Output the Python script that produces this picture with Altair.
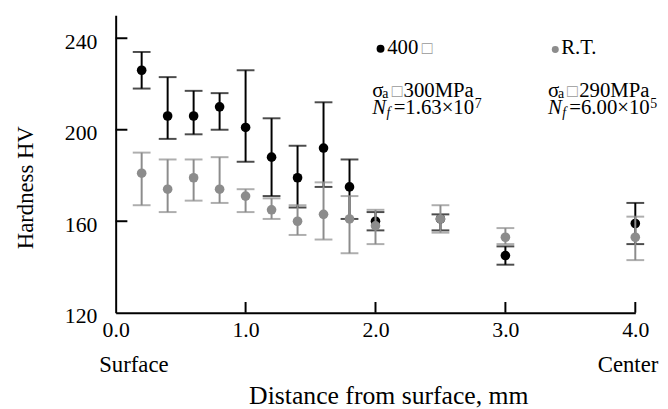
import altair as alt
import pandas as pd

# ---- data ----
x_mm = [0.2, 0.4, 0.6, 0.8, 1.0, 1.2, 1.4, 1.6, 1.8, 2.0, 2.5, 3.0, 4.0]

hv_400_mean = [226, 206, 206, 210, 201, 188, 179, 192, 175, 160, 161, 145, 159]
hv_400_hi   = [234, 223, 217, 216, 226, 205, 193, 212, 187, 164, 163, 149, 168]
hv_400_lo   = [218, 196, 198, 200, 186, 171, 166, 175, 161, 156, 156, 141, 150]

hv_rt_mean = [181, 174, 179, 174, 171, 165, 160, 163, 161, 158, 161, 153, 153]
hv_rt_hi   = [190, 187, 187, 188, 174, 170, 167, 177, 171, 165, 167, 157, 162]
hv_rt_lo   = [167, 164, 169, 168, 164, 161, 154, 152, 146, 150, 155, 150, 143]

x_ticks = [0, 1, 2, 3, 4]
y_ticks = [120, 160, 200, 240]

FONT = "Liberation Serif"
BLACK = "#000000"
GRAY = "#8c8c8c"

df_400 = pd.DataFrame({"x": x_mm, "y": hv_400_mean, "lo": hv_400_lo, "hi": hv_400_hi})
df_rt = pd.DataFrame({"x": x_mm, "y": hv_rt_mean, "lo": hv_rt_lo, "hi": hv_rt_hi})

xscale = alt.Scale(domain=[0, 4], nice=False, zero=False)
yscale = alt.Scale(domain=[120, 250], nice=False, zero=False)

xaxis = alt.Axis(
    values=x_ticks, format=".1f", title="Distance from surface, mm",
    ticks=False, grid=False, domainColor=BLACK, domainWidth=2,
    labelFont=FONT, labelFontSize=22, labelColor=BLACK, labelPadding=7,
    labelFlush=False, labelOverlap=False,
    titleFont=FONT, titleFontSize=26, titleFontWeight="normal", titleColor=BLACK,
    titleX=276, titleY=92, titleBaseline="alphabetic", titleAlign="center",
)
yaxis = alt.Axis(
    values=y_ticks, title="Hardness HV",
    ticks=False, grid=False, domainColor=BLACK, domainWidth=2,
    labelFont=FONT, labelFontSize=22, labelColor=BLACK, labelPadding=19,
    labelOffset=3, labelOverlap=False,
    titleFont=FONT, titleFontSize=23, titleFontWeight="normal", titleColor=BLACK,
    titleX=-84, titleY=174, titleBaseline="alphabetic", titleAlign="center",
    titleAngle=270,
)

X = alt.X("x:Q", scale=xscale, axis=xaxis)
Y = alt.Y("y:Q", scale=yscale, axis=yaxis)


def series(df, color):
    base = alt.Chart(df)
    bar = base.mark_rule(color=color, strokeWidth=2).encode(
        x=X, y=alt.Y("lo:Q", scale=yscale, axis=yaxis), y2="hi:Q")
    cap_lo = base.mark_tick(color=color, orient="horizontal", size=18, thickness=2).encode(
        x=X, y=alt.Y("lo:Q", scale=yscale, axis=yaxis))
    cap_hi = base.mark_tick(color=color, orient="horizontal", size=18, thickness=2).encode(
        x=X, y=alt.Y("hi:Q", scale=yscale, axis=yaxis))
    pts = base.mark_circle(color=color, size=95, opacity=1).encode(x=X, y=Y)
    return [bar, cap_lo, cap_hi, pts]


# inward axis ticks
ytick_df = pd.DataFrame({"y": y_ticks[1:], "x": [0] * 3, "x2": [0.09] * 3})
xtick_df = pd.DataFrame({"x": x_ticks[1:], "y": [120] * 4, "y2": [124.7] * 4})
ytick = alt.Chart(ytick_df).mark_rule(color=BLACK, strokeWidth=2).encode(x=X, x2="x2:Q", y=Y)
xtick = alt.Chart(xtick_df).mark_rule(color=BLACK, strokeWidth=2).encode(x=X, y=Y, y2="y2:Q")

# annotation texts (placed in data coordinates)
main_txt = pd.DataFrame({
    "x": [2.090, 3.429, 1.976, 2.216, 3.328, 3.568, 2.140, 3.492],
    "y": [233.1, 233.1, 214.4, 214.4, 214.4, 214.4, 206.8, 206.8],
    "t": ["400", "R.T.", "σ", "300MPa", "σ", "290MPa", "=1.63×10", "=6.00×10"],
})
sub_txt = pd.DataFrame({
    "x": [2.052, 3.404, 2.765, 4.115],
    "y": [213.7, 213.7, 209.5, 209.5],
    "t": ["a", "a", "7", "5"],
})
ital_txt = pd.DataFrame({"x": [1.976, 3.328], "y": [206.8, 206.8], "t": ["N", "N"]})
ital_sub = pd.DataFrame({"x": [2.085, 3.437], "y": [205.6, 205.6], "t": ["f", "f"]})
box_txt = pd.DataFrame({"x": [2.356, 2.126, 3.475], "y": [233.1, 214.4, 214.4], "t": ["□", "□", "□"]})
end_txt = pd.DataFrame({"x": [-0.127, 3.711], "y": [94.2, 94.2], "t": ["Surface", "Center"]})
legend_pts = pd.DataFrame({"x": [2.039, 3.384], "y": [235.4, 235.1], "c": [BLACK, GRAY], "s": [64, 50]})


def txt(df, size, style="normal", color=BLACK):
    return alt.Chart(df).mark_text(
        font=FONT, fontSize=size, fontStyle=style, color=color,
        align="left", baseline="alphabetic").encode(x=X, y=Y, text="t:N")


legend_marks = alt.Chart(legend_pts).mark_circle(opacity=1).encode(
    x=X, y=Y, color=alt.Color("c:N", scale=None), size=alt.Size("s:Q", scale=None))

layers = (
    [ytick, xtick]
    + series(df_400, BLACK)
    + series(df_rt, GRAY)
    + [
        legend_marks,
        txt(main_txt, 21),
        txt(sub_txt, 14),
        txt(ital_txt, 21, "italic"),
        txt(ital_sub, 14, "italic"),
        txt(box_txt, 18, color="#999999"),
        txt(end_txt, 23),
    ]
)

chart = alt.layer(*layers).properties(
    width=526, height=301,
    autosize=alt.AutoSizeParams(type="none"),
    padding={"left": 109, "top": 5, "right": 25, "bottom": 95},
    background="white",
).configure_view(stroke=None)

chart.save("out.html", embed_options={"renderer": "svg", "actions": False})
